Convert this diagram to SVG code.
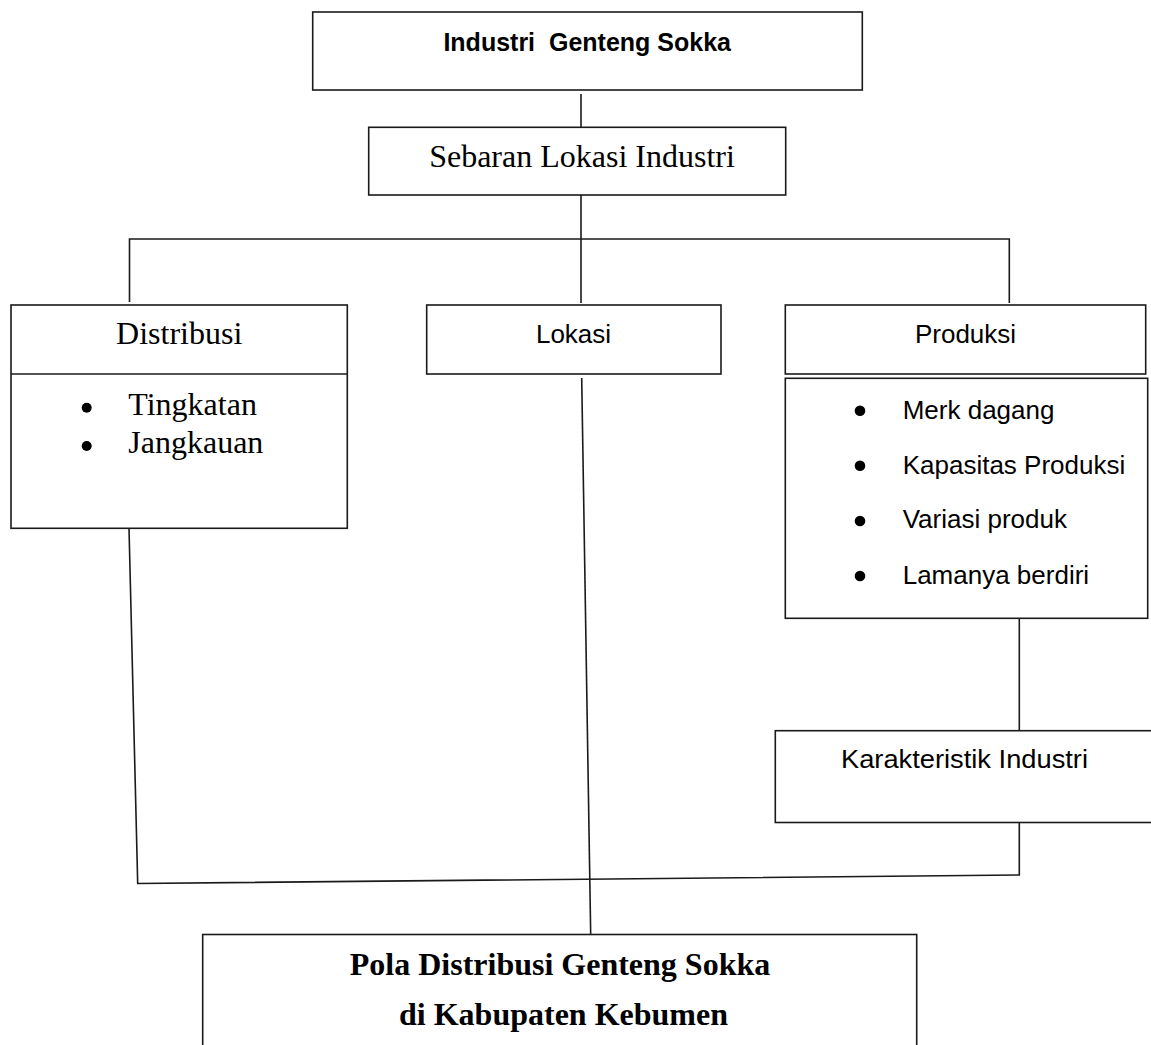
<svg xmlns="http://www.w3.org/2000/svg" width="1151" height="1045" viewBox="0 0 1151 1045">
<style>
  .box { fill: none; stroke: #1a1a1a; stroke-width: 1.6; }
  .ln { fill: none; stroke: #1a1a1a; stroke-width: 1.6; }
  .serif { font-family: "Liberation Serif", "Times New Roman", serif; font-size: 32px; fill: #000; }
  .serifb { font-family: "Liberation Serif", "Times New Roman", serif; font-size: 32px; font-weight: bold; fill: #000; }
  .sans { font-family: "Liberation Sans", Arial, sans-serif; font-size: 26px; fill: #000; }
  .sansb { font-family: "Liberation Sans", Arial, sans-serif; font-size: 25px; font-weight: bold; fill: #000; }
  .dot { fill: #000; }
</style>
<rect width="1151" height="1045" fill="#ffffff"/>

<g id="connectors">
  <line class="ln" x1="581" y1="94" x2="581" y2="127"/>
  <line class="ln" x1="581" y1="195" x2="581" y2="303"/>
  <polyline class="ln" points="129.5,302 129.5,239 1009.3,239 1009.3,303"/>
  <line class="ln" x1="581.7" y1="378" x2="590.7" y2="935"/>
  <line class="ln" x1="1019.3" y1="618.3" x2="1019.3" y2="730.7"/>
  <polyline class="ln" points="129,528.3 137.7,883.5 1019.3,875 1019.3,822.5"/>
</g>

<g id="node-industri">
  <rect class="box" x="312.7" y="12" width="549.6" height="78"/>
  <text class="sansb" x="587.2" y="50.7" text-anchor="middle" xml:space="preserve">Industri  Genteng Sokka</text>
</g>

<g id="node-sebaran">
  <rect class="box" x="368.7" y="127.3" width="417" height="67.7"/>
  <text class="serif" x="582" y="166.7" text-anchor="middle">Sebaran Lokasi Industri</text>
</g>

<g id="node-distribusi">
  <rect class="box" x="11" y="305" width="336.3" height="223.3"/>
  <line class="ln" x1="11" y1="374" x2="347.3" y2="374"/>
  <text class="serif" x="179.2" y="344" text-anchor="middle">Distribusi</text>
  <circle class="dot" cx="86.7" cy="407.7" r="5"/>
  <text class="serif" x="128.3" y="415">Tingkatan</text>
  <circle class="dot" cx="86.7" cy="446" r="5"/>
  <text class="serif" x="128.3" y="453">Jangkauan</text>
</g>

<g id="node-lokasi">
  <rect class="box" x="426.7" y="305" width="294.3" height="69"/>
  <text class="sans" x="573.5" y="343.3" text-anchor="middle">Lokasi</text>
</g>

<g id="node-produksi">
  <rect class="box" x="785.3" y="305" width="360.4" height="69"/>
  <text class="sans" x="965.5" y="342.7" text-anchor="middle">Produksi</text>
  <rect class="box" x="785.3" y="378.3" width="362.4" height="240"/>
  <circle class="dot" cx="860" cy="410.7" r="5.3"/>
  <text class="sans" x="902.7" y="419">Merk dagang</text>
  <circle class="dot" cx="860" cy="465.7" r="5.3"/>
  <text class="sans" x="902.7" y="474">Kapasitas Produksi</text>
  <circle class="dot" cx="860" cy="521" r="5.3"/>
  <text class="sans" x="902.7" y="528.3">Variasi produk</text>
  <circle class="dot" cx="860" cy="576" r="5.3"/>
  <text class="sans" x="902.7" y="584">Lamanya berdiri</text>
</g>

<g id="node-karakteristik">
  <rect class="box" x="775.3" y="730.7" width="400" height="91.8"/>
  <text class="sans" x="841" y="767.7" textLength="247" lengthAdjust="spacingAndGlyphs">Karakteristik Industri</text>
</g>

<g id="node-pola">
  <rect class="box" x="202.7" y="934.5" width="714" height="130"/>
  <text class="serifb" x="560" y="975" text-anchor="middle">Pola Distribusi Genteng Sokka</text>
  <text class="serifb" x="563.5" y="1025" text-anchor="middle">di Kabupaten Kebumen</text>
</g>
</svg>
